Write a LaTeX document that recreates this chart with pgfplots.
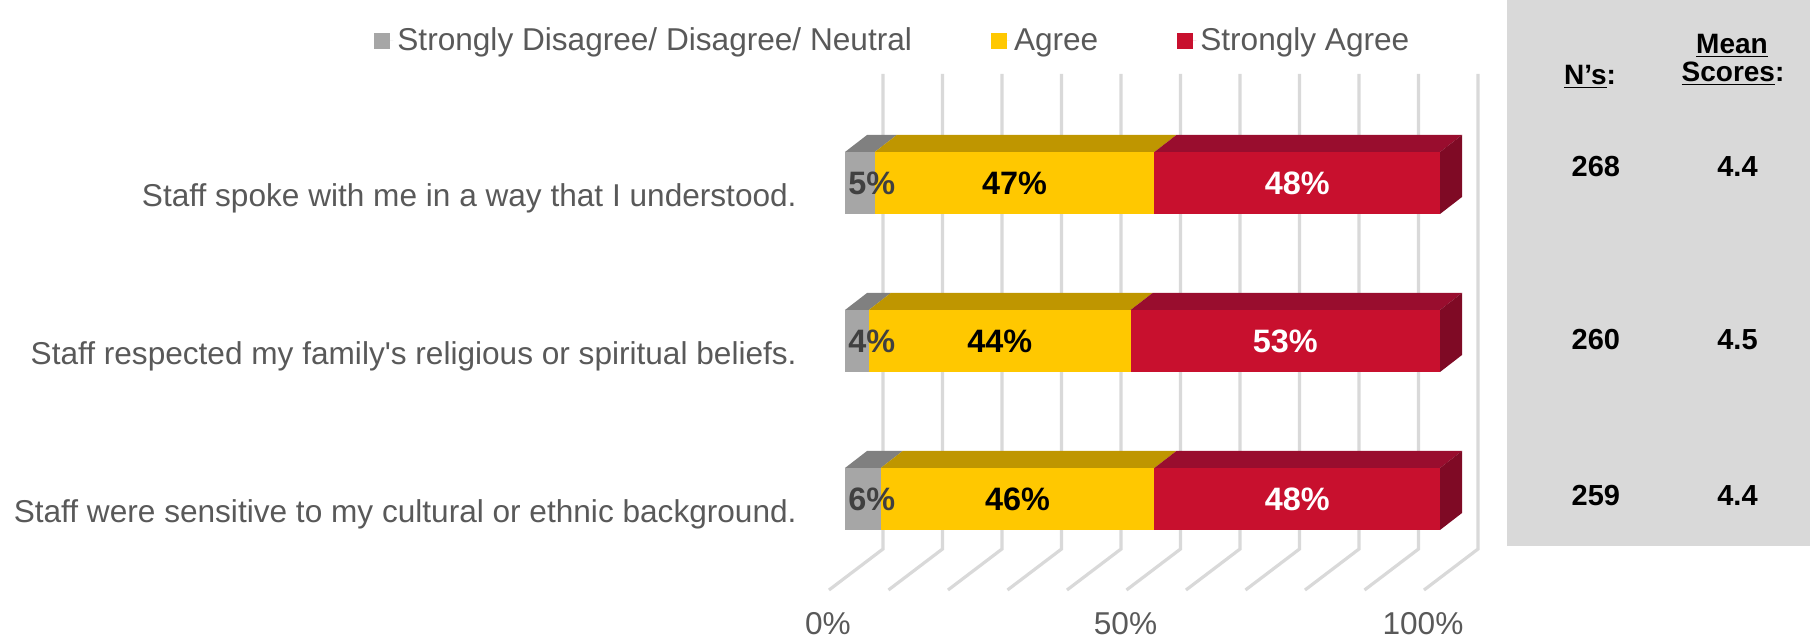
\documentclass[border=0pt]{standalone}
\usepackage{fontspec}
\setmainfont{Liberation Sans}
\usepackage{pgfplots}
\pgfplotsset{compat=1.18}
\definecolor{labgray}{HTML}{595959}
\definecolor{gridc}{HTML}{D9D9D9}
\definecolor{gfront}{HTML}{A6A6A6}
\definecolor{gtop}{HTML}{808080}
\definecolor{yfront}{HTML}{FFC800}
\definecolor{ytop}{HTML}{BF9600}
\definecolor{rfront}{HTML}{C8102E}
\definecolor{rtop}{HTML}{990D2E}
\definecolor{rside}{HTML}{7F0A25}
\definecolor{panel}{HTML}{D9D9D9}
\definecolor{lab5}{HTML}{404040}
\newcommand\fs{\fontsize{15.8}{19}\selectfont}
\newcommand\bfs{\fontsize{16.2}{19}\selectfont\bfseries}
\newcommand\pfs{\fontsize{14.5}{17}\selectfont\bfseries}
\newcommand\hfs{\fontsize{14}{17}\selectfont\bfseries}
\begin{document}
\begin{tikzpicture}
\path[use as bounding box] (0,0) rectangle (905pt,-320pt);
\fill[panel] (753.5pt,0pt) rectangle (905pt,-273pt);
\node[font=\hfs, anchor=center] at (795pt,-38.5pt) {\underline{N’s}:};
\node[font=\hfs, anchor=center] at (866pt,-23pt) {\underline{Mean}};
\node[font=\hfs, anchor=center] at (866.5pt,-37pt) {\underline{Scores}:};
\begin{axis}[
  at={(422.5pt,-295pt)}, anchor=south west,
  width=297.5pt, height=258pt, scale only axis,
  xmin=0, xmax=100, ymin=50, ymax=566,
  clip=false,
  axis line style={draw=none},
  tick style={draw=none},
  major tick length=0pt,
  xtick={0,50,100}, xticklabels={0\%,50\%,100\%},
  xticklabel style={anchor=base, xshift=-8.5pt, yshift=-22.5pt, text=labgray, font=\fs},
  ytick={141,299,457},
  yticklabels={Staff were sensitive to my cultural or ethnic background.,Staff respected my family\textquotesingle s religious or spiritual beliefs.,Staff spoke with me in a way that I understood.},
  yticklabel style={anchor=base east, inner sep=0pt, xshift=-24pt, yshift=-12pt, text=labgray, font=\fs},
  legend columns=3,
  legend image code/.code={\fill[#1] (0pt,-4pt) rectangle (8pt,4pt); \path (0pt,0pt) -- (9.5pt,0pt);},
  legend style={at={(-0.7916,1.064)}, anchor=west, draw=none, fill=none, font=\fs, text=labgray, inner sep=0pt, /tikz/every even column/.append style={column sep=37.5pt}},
]
% wall gridlines and floor
\addplot[gridc, line width=1.6pt, forget plot] coordinates {(-2.69,50) (6.39,91) (6.39,566)};
\addplot[gridc, line width=1.6pt, forget plot] coordinates {(7.31,50) (16.39,91) (16.39,566)};
\addplot[gridc, line width=1.6pt, forget plot] coordinates {(17.31,50) (26.39,91) (26.39,566)};
\addplot[gridc, line width=1.6pt, forget plot] coordinates {(27.31,50) (36.39,91) (36.39,566)};
\addplot[gridc, line width=1.6pt, forget plot] coordinates {(37.31,50) (46.39,91) (46.39,566)};
\addplot[gridc, line width=1.6pt, forget plot] coordinates {(47.31,50) (56.39,91) (56.39,566)};
\addplot[gridc, line width=1.6pt, forget plot] coordinates {(57.31,50) (66.39,91) (66.39,566)};
\addplot[gridc, line width=1.6pt, forget plot] coordinates {(67.31,50) (76.39,91) (76.39,566)};
\addplot[gridc, line width=1.6pt, forget plot] coordinates {(77.31,50) (86.39,91) (86.39,566)};
\addplot[gridc, line width=1.6pt, forget plot] coordinates {(87.31,50) (96.39,91) (96.39,566)};
\addplot[gridc, line width=1.6pt, forget plot] coordinates {(97.31,50) (106.39,91) (106.39,566)};
% bar 1 front faces (legend)
\addplot[fill=gfront, draw=none] coordinates {(0,426) (5,426) (5,488) (0,488)};
\addlegendentry{Strongly Disagree/ Disagree/ Neutral}
\addplot[fill=yfront, draw=none] coordinates {(5,426) (52,426) (52,488) (5,488)};
\addlegendentry{Agree}
\addplot[fill=rfront, draw=none] coordinates {(52,426) (100,426) (100,488) (52,488)};
\addlegendentry{Strongly Agree}
% bar 1 top & side
\addplot[fill=gtop, draw=none, forget plot] coordinates {(0,488) (5,488) (8.7,505) (3.7,505)};
\addplot[fill=ytop, draw=none, forget plot] coordinates {(5,488) (52,488) (55.7,505) (8.7,505)};
\addplot[fill=rtop, draw=none, forget plot] coordinates {(52,488) (100,488) (103.7,505) (55.7,505)};
\addplot[fill=rside, draw=none, forget plot] coordinates {(100,426) (100,488) (103.7,505) (103.7,443)};
% bar 2
\addplot[fill=gfront, draw=none, forget plot] coordinates {(0,268) (4,268) (4,330) (0,330)};
\addplot[fill=yfront, draw=none, forget plot] coordinates {(4,268) (48,268) (48,330) (4,330)};
\addplot[fill=rfront, draw=none, forget plot] coordinates {(48,268) (100,268) (100,330) (48,330)};
\addplot[fill=gtop, draw=none, forget plot] coordinates {(0,330) (4,330) (7.7,347) (3.7,347)};
\addplot[fill=ytop, draw=none, forget plot] coordinates {(4,330) (48,330) (51.7,347) (7.7,347)};
\addplot[fill=rtop, draw=none, forget plot] coordinates {(48,330) (100,330) (103.7,347) (51.7,347)};
\addplot[fill=rside, draw=none, forget plot] coordinates {(100,268) (100,330) (103.7,347) (103.7,285)};
% bar 3
\addplot[fill=gfront, draw=none, forget plot] coordinates {(0,110) (6,110) (6,172) (0,172)};
\addplot[fill=yfront, draw=none, forget plot] coordinates {(6,110) (52,110) (52,172) (6,172)};
\addplot[fill=rfront, draw=none, forget plot] coordinates {(52,110) (100,110) (100,172) (52,172)};
\addplot[fill=gtop, draw=none, forget plot] coordinates {(0,172) (6,172) (9.7,189) (3.7,189)};
\addplot[fill=ytop, draw=none, forget plot] coordinates {(6,172) (52,172) (55.7,189) (9.7,189)};
\addplot[fill=rtop, draw=none, forget plot] coordinates {(52,172) (100,172) (103.7,189) (55.7,189)};
\addplot[fill=rside, draw=none, forget plot] coordinates {(100,110) (100,172) (103.7,189) (103.7,127)};
% value labels
\addplot[draw=none, forget plot, nodes near coords, point meta=explicit symbolic,
  every node near coord/.append style={anchor=west, inner sep=0pt, font=\bfs, text=lab5}]
  coordinates {(0.5,457)[5\%] (0.5,299)[4\%] (0.5,141)[6\%]};
\addplot[draw=none, forget plot, nodes near coords, point meta=explicit symbolic,
  every node near coord/.append style={anchor=center, font=\bfs, text=black}]
  coordinates {(28.5,457)[47\%] (26,299)[44\%] (29,141)[46\%]};
\addplot[draw=none, forget plot, nodes near coords, point meta=explicit symbolic,
  every node near coord/.append style={anchor=center, font=\bfs, text=white}]
  coordinates {(76,457)[48\%] (74,299)[53\%] (76,141)[48\%]};
% N's and mean scores
\addplot[draw=none, forget plot, nodes near coords, point meta=explicit symbolic,
  every node near coord/.append style={anchor=center, font=\pfs, text=black}]
  coordinates {(126.2,473)[268] (126.2,300)[260] (126.2,144)[259]
               (150,473)[4.4] (150,300)[4.5] (150,144)[4.4]};
\end{axis}
\end{tikzpicture}
\end{document}
